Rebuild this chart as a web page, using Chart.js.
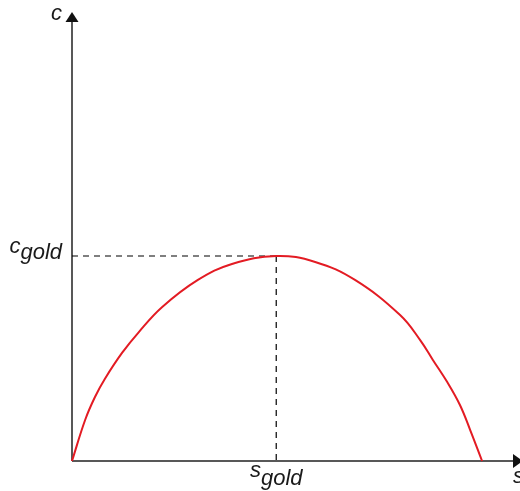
<!DOCTYPE html>
<html>
<head>
<meta charset="utf-8">
<script src="https://cdn.jsdelivr.net/npm/chart.js@4/dist/chart.umd.min.js"></script>
<style>
  html, body { margin: 0; padding: 0; background: #fff; }
  #wrap { position: relative; width: 520px; height: 491px; }
</style>
</head>
<body>
<div id="wrap"><canvas id="chart"></canvas></div>
<script>
// ---- DATA ----
var sVals = [0, 3.2, 5.6, 8.0, 12.2, 16.3, 22.0, 30.7, 39.0, 49.8, 59.3, 69.0, 80.0, 84.9, 88.0, 91.5, 94.6, 97.1, 100];
var cVals = [0, 20.0, 31.2, 40.0, 52.7, 62.9, 75.1, 88.3, 96.1, 100, 97.1, 88.3, 71.2, 59.0, 49.3, 38.5, 27.3, 15.1, 0];
var sGold = 49.8;
var cGold = 100;
var axisLabels = ['s', 'c'];
var goldLabels = ['s', 'c'];
var goldSub = 'gold';
var sMax = 109;
var cMax = 219;

var curve = sVals.map(function (s, i) { return { x: s, y: cVals[i] }; });

var FONT = 'italic 22px "Liberation Sans", Arial, sans-serif';
var INK = '#1a1a1a';

// ---- AXES + LABELS PLUGIN ----
var axesPlugin = {
  id: 'axesPlugin',
  beforeDatasetsDraw: function (chart) {
    var ctx = chart.ctx;
    var xs = chart.scales.x, ys = chart.scales.y;
    var x0 = xs.getPixelForValue(0), y0 = ys.getPixelForValue(0);
    var xEnd = xs.getPixelForValue(sMax), yEnd = ys.getPixelForValue(cMax);

    ctx.save();
    ctx.strokeStyle = '#222';
    ctx.lineWidth = 1.5;
    ctx.beginPath();
    ctx.moveTo(x0, y0); ctx.lineTo(x0, yEnd + 8);
    ctx.moveTo(x0, y0); ctx.lineTo(xEnd - 6, y0);
    ctx.stroke();

    ctx.fillStyle = '#111';
    // y arrow
    ctx.beginPath();
    ctx.moveTo(x0, yEnd);
    ctx.lineTo(x0 - 6.5, yEnd + 10);
    ctx.lineTo(x0 + 6.5, yEnd + 10);
    ctx.closePath();
    ctx.fill();
    // x arrow
    ctx.beginPath();
    ctx.moveTo(xEnd + 4, y0);
    ctx.lineTo(xEnd - 6, y0 - 7);
    ctx.lineTo(xEnd - 6, y0 + 7);
    ctx.closePath();
    ctx.fill();
    ctx.restore();
  },
  afterDraw: function (chart) {
    var ctx = chart.ctx;
    var xs = chart.scales.x, ys = chart.scales.y;
    var x0 = xs.getPixelForValue(0), y0 = ys.getPixelForValue(0);
    var xEnd = xs.getPixelForValue(sMax), yEnd = ys.getPixelForValue(cMax);

    ctx.save();
    ctx.font = FONT;
    ctx.fillStyle = INK;
    ctx.textBaseline = 'alphabetic';

    // axis names
    ctx.textAlign = 'right';
    ctx.fillText(axisLabels[1], x0 - 10, yEnd + 8);
    ctx.textAlign = 'left';
    ctx.fillText(axisLabels[0], xEnd - 6, y0 + 22);

    // c_gold
    var cy = ys.getPixelForValue(cGold);
    var wSub = ctx.measureText(goldSub).width;
    ctx.textAlign = 'right';
    ctx.fillText(goldSub, x0 - 10, cy + 3);
    ctx.fillText(goldLabels[1], x0 - 10 - wSub, cy - 3);

    // s_gold
    var sx = xs.getPixelForValue(sGold);
    var wMain = ctx.measureText(goldLabels[0]).width;
    var left = sx - (wMain + wSub) / 2;
    ctx.textAlign = 'left';
    ctx.fillText(goldLabels[0], left, y0 + 16);
    ctx.fillText(goldSub, left + wMain, y0 + 24);
    ctx.restore();
  }
};

new Chart(document.getElementById('chart'), {
  type: 'scatter',
  data: {
    datasets: [
      {
        data: curve,
        showLine: true,
        borderColor: '#e31b23',
        borderWidth: 2,
        pointRadius: 0,
        tension: 0.4,
        clip: 6
      },
      {
        data: [{ x: 0, y: cGold }, { x: sGold, y: cGold }],
        showLine: true,
        borderColor: '#000',
        borderWidth: 1.2,
        borderDash: [6, 5],
        pointRadius: 0,
        clip: 6
      },
      {
        data: [{ x: sGold, y: cGold }, { x: sGold, y: 0 }],
        showLine: true,
        borderColor: '#000',
        borderWidth: 1.2,
        borderDash: [6, 5],
        pointRadius: 0,
        clip: 6
      }
    ]
  },
  options: {
    responsive: true,
    maintainAspectRatio: false,
    animation: false,
    layout: { padding: { left: 72, right: 1, top: 12, bottom: 30 } },
    plugins: { legend: { display: false }, tooltip: { enabled: false } },
    scales: {
      x: { type: 'linear', min: 0, max: sMax, display: false },
      y: { type: 'linear', min: 0, max: cMax, display: false }
    }
  },
  plugins: [axesPlugin]
});
</script>
</body>
</html>
